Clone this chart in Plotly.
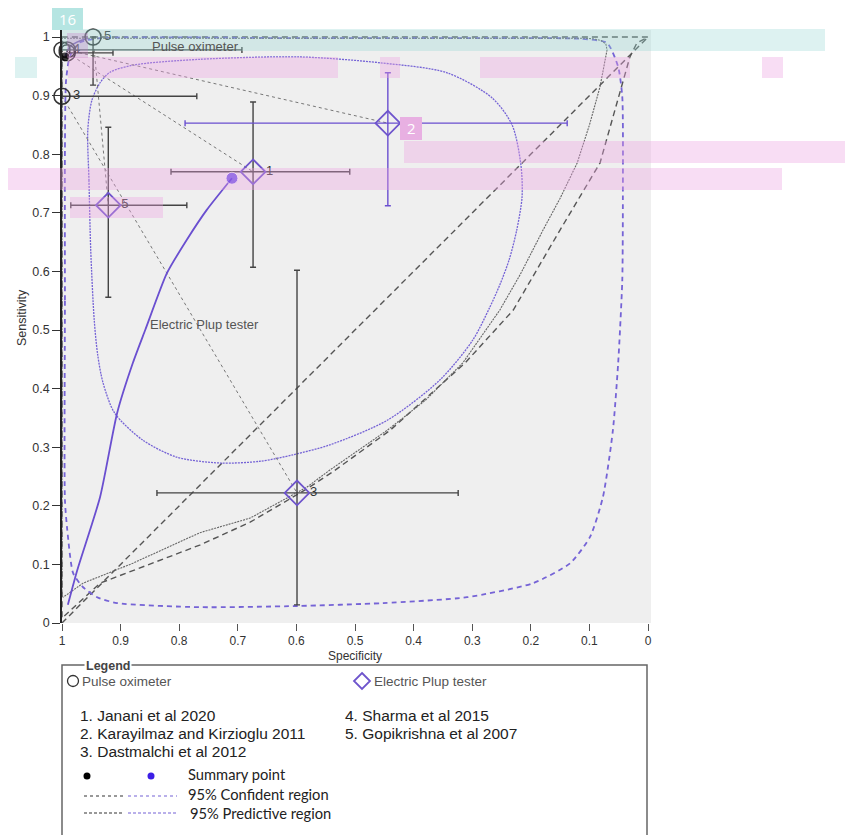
import plotly.graph_objects as go

# ---------------- data (specificity, sensitivity) ----------------
ticks = [0, 0.1, 0.2, 0.3, 0.4, 0.5, 0.6, 0.7, 0.8, 0.9, 1]
tick_text = ["0", "0.1", "0.2", "0.3", "0.4", "0.5", "0.6", "0.7", "0.8", "0.9", "1"]

# Pulse oximeter studies
pulse_ids = ["1", "2", "3", "4", "5"]
pulse_spec = [0.991, 0.991, 1.0, 1.0, 0.947]
pulse_sens = [0.973, 0.978, 0.899, 0.978, 1.0]
pulse_labels = ["", "", "3", "4", "5"]
pulse_spec_lo = [0.913, None, 0.770, 0.693, None]
pulse_sens_lo = [None, None, None, None, 0.918]

# Electric pulp tester studies
ept_ids = ["1", "2", "3", "5"]
ept_spec = [0.674, 0.444, 0.599, 0.921]
ept_sens = [0.770, 0.853, 0.222, 0.713]
ept_spec_lo = [0.509, 0.138, 0.324, 0.787]
ept_spec_hi = [0.814, 0.790, 0.838, 0.985]
ept_sens_lo = [0.607, 0.712, 0.031, 0.556]
ept_sens_hi = [0.889, 0.939, 0.602, 0.846]
ept_labels = ["1", "2", "3", "5"]

# summary points [pulse oximeter, electric pulp tester]
summary_spec = [0.995, 0.710]
summary_sens = [0.966, 0.759]

# SROC curves
pulse_sroc_spec = [0.995, 0.985, 0.956]
pulse_sroc_sens = [0.966, 0.985, 0.998]
ept_sroc_spec = [0.990, 0.974, 0.935, 0.906, 0.879, 0.858, 0.821, 0.787, 0.753, 0.710]
ept_sroc_sens = [0.031, 0.090, 0.215, 0.358, 0.444, 0.500, 0.597, 0.654, 0.705, 0.759]

# 95% confidence regions
pulse_conf_spec = [1.0, 1.0, 0.110, 0.094, 0.080, 0.072, 0.070, 0.075, 0.082, 0.100, 0.121, 0.150,
                   0.179, 0.218, 0.253, 0.316, 0.380, 0.445, 0.543, 0.582, 0.679, 0.765, 0.879,
                   0.964, 0.998]
pulse_conf_sens = [0.044, 0.998, 0.998, 0.997, 0.994, 0.988, 0.978, 0.950, 0.915, 0.850, 0.785, 0.725,
                   0.671, 0.595, 0.534, 0.444, 0.380, 0.329, 0.261, 0.232, 0.179, 0.154, 0.102,
                   0.068, 0.044]
ept_conf_spec = [0.956, 0.954, 0.951, 0.945, 0.939, 0.930, 0.910, 0.862, 0.804, 0.730, 0.662,
                 0.606, 0.543, 0.445, 0.355, 0.299, 0.270, 0.253, 0.237, 0.224, 0.215, 0.217,
                 0.232, 0.266, 0.343, 0.457, 0.594, 0.765, 0.879, 0.918, 0.935, 0.949, 0.956]
ept_conf_sens = [0.841, 0.756, 0.637, 0.517, 0.457, 0.410, 0.358, 0.312, 0.283, 0.273, 0.276,
                 0.287, 0.304, 0.346, 0.415, 0.483, 0.539, 0.577, 0.620, 0.671, 0.727, 0.782,
                 0.850, 0.896, 0.939, 0.956, 0.966, 0.962, 0.952, 0.940, 0.922, 0.892, 0.841]

# 95% predictive regions
pulse_pred_spec = [1.0, 1.0, 0.0, 0.019, 0.031, 0.082, 0.150, 0.201, 0.230, 0.312, 0.440,
                   0.538, 0.582, 0.679, 0.765, 0.935, 0.998]
pulse_pred_sens = [0.010, 1.0, 1.0, 0.990, 0.966, 0.785, 0.671, 0.585, 0.534, 0.444, 0.329,
                   0.258, 0.229, 0.172, 0.133, 0.068, 0.010]
ept_pred_spec = [0.995, 0.995, 0.995, 0.993, 0.986, 0.969, 0.935, 0.594, 0.253, 0.116, 0.070,
                 0.051, 0.044, 0.043, 0.044, 0.051, 0.060, 0.077, 0.099, 0.133, 0.196, 0.309,
                 0.452, 0.599, 0.765, 0.906, 0.940, 0.964, 0.981, 0.991, 0.995]
ept_pred_sens = [0.210, 0.551, 0.807, 0.927, 0.969, 0.991, 0.998, 0.998, 0.998, 0.997, 0.990,
                 0.949, 0.898, 0.727, 0.585, 0.444, 0.329, 0.215, 0.147, 0.102, 0.068, 0.044,
                 0.034, 0.029, 0.027, 0.034, 0.044, 0.061, 0.085, 0.159, 0.210]

# chance line
chance_spec = [1.0, 0.0]
chance_sens = [0.0, 1.0]

legend_studies_left = ["1. Janani et al 2020", "2. Karayilmaz and Kirzioglu 2011", "3. Dastmalchi et al 2012"]
legend_studies_right = ["4. Sharma et al 2015", "5. Gopikrishna et al 2007"]

# ---------------- styles ----------------
OFF = 8                      # browser body margin
W, H = 853 - OFF, 835 - OFF  # figure size
L, R, T, B = 62, 651, 30, 623  # plot area in page pixels
PURPLE = "#7563d6"
PURPLE_S = "#6a4fd0"
DIAM = "#6e54cc"
BLUE = "#3c1ee6"
DARK = "#333333"
FONT = "Liberation Sans, Arial, sans-serif"
NARROW = "Liberation Sans Narrow, Liberation Sans, Arial, sans-serif"


def px(x):
    return (x - L) / (R - L)


def py(y):
    return (B - y) / (B - T)


fig = go.Figure()

# chance line
fig.add_trace(go.Scatter(x=chance_spec, y=chance_sens, mode="lines", cliponaxis=False,
                         line=dict(color="#555555", width=1.4, dash="6px,4px"), hoverinfo="skip"))

# predictive regions
fig.add_trace(go.Scatter(x=pulse_pred_spec, y=pulse_pred_sens, mode="lines", cliponaxis=False,
                         line=dict(color="#555555", width=1.4, dash="6px,4px"), hoverinfo="skip"))
fig.add_trace(go.Scatter(x=ept_pred_spec, y=ept_pred_sens, mode="lines", cliponaxis=False,
                         line=dict(color=PURPLE, width=1.8, dash="5px,4px", shape="spline", smoothing=0.6),
                         hoverinfo="skip"))

# confidence regions
fig.add_trace(go.Scatter(x=pulse_conf_spec, y=pulse_conf_sens, mode="lines", cliponaxis=False,
                         line=dict(color="#666666", width=1.1, dash="2px,1px"),
                         hoverinfo="skip"))
fig.add_trace(go.Scatter(x=ept_conf_spec, y=ept_conf_sens, mode="lines", cliponaxis=False,
                         line=dict(color=PURPLE, width=1.3, dash="2px,1px", shape="spline", smoothing=0.8),
                         hoverinfo="skip"))

# connectors between paired studies
for sid, sx, sy in zip(ept_ids, ept_spec, ept_sens):
    i = pulse_ids.index(sid)
    fig.add_trace(go.Scatter(x=[pulse_spec[i], sx], y=[pulse_sens[i], sy], mode="lines",
                             line=dict(color="#777777", width=1, dash="dot"), hoverinfo="skip",
                             cliponaxis=False))

# SROC curves
fig.add_trace(go.Scatter(x=ept_sroc_spec, y=ept_sroc_sens, mode="lines", cliponaxis=False,
                         line=dict(color=PURPLE_S, width=1.8, shape="spline", smoothing=0.6), hoverinfo="skip"))
fig.add_trace(go.Scatter(x=pulse_sroc_spec, y=pulse_sroc_sens, mode="lines", cliponaxis=False,
                         line=dict(color="#6a5ab0", width=1.5, shape="spline"), hoverinfo="skip"))

# electric pulp tester error bars
for k in range(len(ept_ids)):
    col = PURPLE_S if ept_ids[k] == "2" else "#444444"
    fig.add_trace(go.Scatter(
        x=[ept_spec[k]], y=[ept_sens[k]], mode="markers", marker=dict(size=1, opacity=0),
        error_x=dict(type="data", symmetric=False, array=[ept_spec_hi[k] - ept_spec[k]],
                     arrayminus=[ept_spec[k] - ept_spec_lo[k]], color=col, thickness=1.4, width=3),
        error_y=dict(type="data", symmetric=False, array=[ept_sens_hi[k] - ept_sens[k]],
                     arrayminus=[ept_sens[k] - ept_sens_lo[k]], color=col, thickness=1.4, width=3),
        hoverinfo="skip", cliponaxis=False))

# pulse oximeter error bars
for k in range(len(pulse_ids)):
    ex = None
    ey = None
    if pulse_spec_lo[k] is not None:
        ex = dict(type="data", symmetric=False, array=[0], arrayminus=[pulse_spec[k] - pulse_spec_lo[k]],
                  color="#444444", thickness=1.4, width=3)
    if pulse_sens_lo[k] is not None:
        ey = dict(type="data", symmetric=False, array=[0], arrayminus=[pulse_sens[k] - pulse_sens_lo[k]],
                  color="#444444", thickness=1.4, width=3)
    if ex is None and ey is None:
        continue
    fig.add_trace(go.Scatter(x=[pulse_spec[k]], y=[pulse_sens[k]], mode="markers",
                             marker=dict(size=1, opacity=0), error_x=ex, error_y=ey,
                             hoverinfo="skip", cliponaxis=False))

# study markers
fig.add_trace(go.Scatter(x=ept_spec, y=ept_sens, mode="markers+text", text=ept_labels,
                         textposition="middle right", cliponaxis=False,
                         textfont=dict(family=NARROW, size=13, color=DARK),
                         marker=dict(symbol="diamond-open", size=19, color=DIAM, line=dict(width=1.8, color=DIAM)),
                         hoverinfo="skip"))
fig.add_trace(go.Scatter(x=pulse_spec, y=pulse_sens, mode="markers+text", text=pulse_labels,
                         textposition="middle right", cliponaxis=False,
                         textfont=dict(family=NARROW, size=13, color=DARK),
                         marker=dict(symbol="circle-open", size=16, color="#333333", line=dict(width=1.5, color="#333333")),
                         hoverinfo="skip"))

# summary points
fig.add_trace(go.Scatter(x=summary_spec, y=summary_sens, mode="markers", cliponaxis=False,
                         marker=dict(size=[10, 12], color=["#000000", BLUE]), hoverinfo="skip"))

shapes = []
annotations = []


def note(x, y, text, size, color, family=FONT, xanchor="left", **kw):
    annotations.append(dict(x=px(x), y=py(y), xref="paper", yref="paper", text=text, showarrow=False,
                            xanchor=xanchor, yanchor="middle",
                            font=dict(family=family, size=size, color=color), **kw))


# axis titles
note(355, 656, "Specificity", 12, DARK, NARROW, "center")
note(22, 318, "Sensitivity", 12.5, DARK, NARROW, "center", textangle=-90)

# in-plot labels
annotations.append(dict(x=0.773, y=0.984, xref="x", yref="y", text="Pulse oximeter", showarrow=False,
                        xanchor="center", yanchor="middle", font=dict(family=FONT, size=13, color="#555555")))
annotations.append(dict(x=0.757, y=0.509, xref="x", yref="y", text="Electric Plup tester", showarrow=False,
                        xanchor="center", yanchor="middle", font=dict(family=FONT, size=13, color="#555555")))

# legend box
shapes.append(dict(type="rect", xref="paper", yref="paper", x0=px(62), x1=px(647), y0=py(850), y1=py(665),
                   line=dict(color="#666666", width=1.5), fillcolor="rgba(0,0,0,0)", layer="above"))
note(84, 666, "<b>Legend</b>", 12.5, "#444444", bgcolor="white", borderpad=1)
shapes.append(dict(type="circle", xref="paper", yref="paper", xsizemode="pixel", ysizemode="pixel",
                   xanchor=px(73), yanchor=py(681), x0=-5.5, x1=5.5, y0=-5.5, y1=5.5,
                   line=dict(color="#333333", width=1.3)))
note(80, 681, "Pulse oximeter", 13.5, "#555555")
shapes.append(dict(type="path", xref="paper", yref="paper", xsizemode="pixel", ysizemode="pixel",
                   xanchor=px(362), yanchor=py(681), path="M 0,8 L 8,0 L 0,-8 L -8,0 Z",
                   line=dict(color=DIAM, width=1.8)))
note(372, 681, "Electric Plup tester", 13.5, "#555555")
for j, s in enumerate(legend_studies_left):
    note(78, 715 + 18 * j, s, 15.5, "#222222")
for j, s in enumerate(legend_studies_right):
    note(343, 715 + 18 * j, s, 15.5, "#222222")
for cx, col in [(87, "#000000"), (151, BLUE)]:
    shapes.append(dict(type="circle", xref="paper", yref="paper", xsizemode="pixel", ysizemode="pixel",
                       xanchor=px(cx), yanchor=py(776), x0=-3.5, x1=3.5, y0=-3.5, y1=3.5,
                       fillcolor=col, line=dict(color=col, width=0)))
for (x0, x1, yy, col, dash) in [(84, 124, 796, "#333333", "dot"), (128, 177, 796, PURPLE, "dot"),
                                (84, 122, 813, "#333333", "3px,2px"), (128, 177, 813, PURPLE, "3px,2px")]:
    shapes.append(dict(type="line", xref="paper", yref="paper", x0=px(x0), x1=px(x1), y0=py(yy), y1=py(yy),
                       line=dict(color=col, width=1.2, dash=dash)))
for txt, xx, yy in [("Summary point", 186, 774), ("95% Confident region", 186, 794),
                    ("95% Predictive region", 188, 813)]:
    note(xx, yy, txt, 14.7, "#222222", "Lato, Open Sans, sans-serif")

# highlight overlays
CYAN = "rgba(150,215,210,0.32)"
PINK = "rgba(235,160,225,0.36)"
for (x0, y0, x1, y1, col) in [(62, 29, 825, 51, CYAN), (15, 57, 37, 78, CYAN),
                              (68, 57, 338, 78, PINK), (380, 57, 400, 78, PINK), (480, 57, 630, 78, PINK),
                              (762, 57, 783, 78, PINK), (404, 141, 853, 163, PINK), (8, 168, 782, 190, PINK),
                              (70, 197, 163, 218, PINK), (67, 33, 88, 58, "rgba(200,120,200,0.3)")]:
    shapes.append(dict(type="rect", xref="paper", yref="paper", x0=px(x0), x1=px(x1), y0=py(y1), y1=py(y0),
                       fillcolor=col, line=dict(width=0), layer="above"))
for (x0, y0, x1, y1, col, txt) in [(52, 8, 83, 30, "#b5e5e2", "16"), (400, 117, 422, 140, "#e8b0e2", "2")]:
    shapes.append(dict(type="rect", xref="paper", yref="paper", x0=px(x0), x1=px(x1), y0=py(y1), y1=py(y0),
                       fillcolor=col, line=dict(width=0), layer="above"))
    note((x0 + x1) / 2, (y0 + y1) / 2, txt, 15, "white", "Open Sans, sans-serif", "center")

fig.update_layout(
    width=W, height=H, showlegend=False,
    margin=dict(l=L - OFF, r=(OFF + W) - R, t=T - OFF, b=(OFF + H) - B, pad=0),
    paper_bgcolor="white", plot_bgcolor="#efefef",
    shapes=shapes, annotations=annotations,
    xaxis=dict(range=[1.0, -0.005], tickvals=ticks, ticktext=tick_text, showgrid=False, zeroline=False,
               showline=False, ticks="outside", ticklen=7, tickcolor="#555555", tickwidth=1,
               tickfont=dict(family=NARROW, size=12, color=DARK)),
    yaxis=dict(range=[0, 1.012], tickvals=ticks, ticktext=tick_text, showgrid=False, zeroline=False,
               showline=True, linecolor="#222222", linewidth=1.5, ticks="outside", ticklen=8,
               tickcolor="#333333", tickwidth=1.2, tickfont=dict(family=NARROW, size=12.5, color=DARK)),
)

fig.write_html("out.html")
